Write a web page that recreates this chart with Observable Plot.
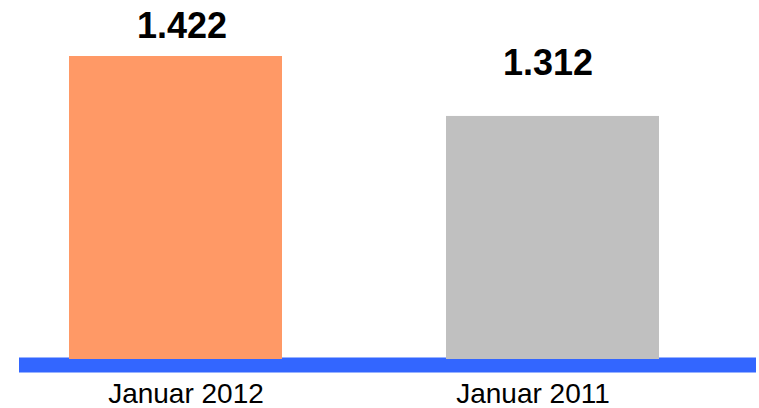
<!DOCTYPE html>
<html>
<head>
<meta charset="utf-8">
<script src="https://cdn.jsdelivr.net/npm/d3@7"></script>
<script src="https://cdn.jsdelivr.net/npm/@observablehq/plot@0.6"></script>
<style>
  html, body { margin: 0; padding: 0; background: #fff; }
  #chart svg { display: block; font-family: "Liberation Sans", Arial, sans-serif; }
</style>
</head>
<body>
<div id="chart"></div>
<script>
const categories = ["Januar 2012", "Januar 2011"];
const values = [1422, 1312];
const labels = ["1.422", "1.312"];
const colors = ["#FF9966", "#C0C0C0"];

const baseline = 866;
const data = categories.map((c, i) => ({cat: c, value: values[i], label: labels[i], color: colors[i]}));

const chart = Plot.plot({
  width: 759,
  height: 408,
  marginTop: 56,
  marginBottom: 49,
  marginLeft: 19,
  marginRight: 3,
  style: {fontFamily: "Liberation Sans, Arial, sans-serif", background: "#fff"},
  x: {domain: categories, range: [0, 728], paddingInner: 0.435, paddingOuter: 0.183, axis: null},
  y: {domain: [baseline, 1422], axis: null},
  marks: [
    Plot.ruleY([baseline], {stroke: "#3366FF", strokeWidth: 15, dy: 5.5}),
    Plot.barY(data, {x: "cat", y1: baseline, y2: "value", fill: "color"}),
    Plot.text([data[0]], {x: "cat", y: "value", text: "label", lineAnchor: "bottom", dy: -19, dx: 6, fontSize: 36, fontWeight: "bold", fill: "#000"}),
    Plot.text([data[1]], {x: "cat", y: "value", text: "label", lineAnchor: "bottom", dy: -41, dx: -5, fontSize: 36, fontWeight: "bold", fill: "#000"}),
    Plot.axisX([categories[0]], {tickSize: 0, tickPadding: 24, fontSize: 28, dx: 10, fill: "#000", label: null}),
    Plot.axisX([categories[1]], {tickSize: 0, tickPadding: 24, fontSize: 28, dx: -20, fill: "#000", label: null})
  ]
});
document.getElementById("chart").appendChild(chart);
</script>
</body>
</html>
